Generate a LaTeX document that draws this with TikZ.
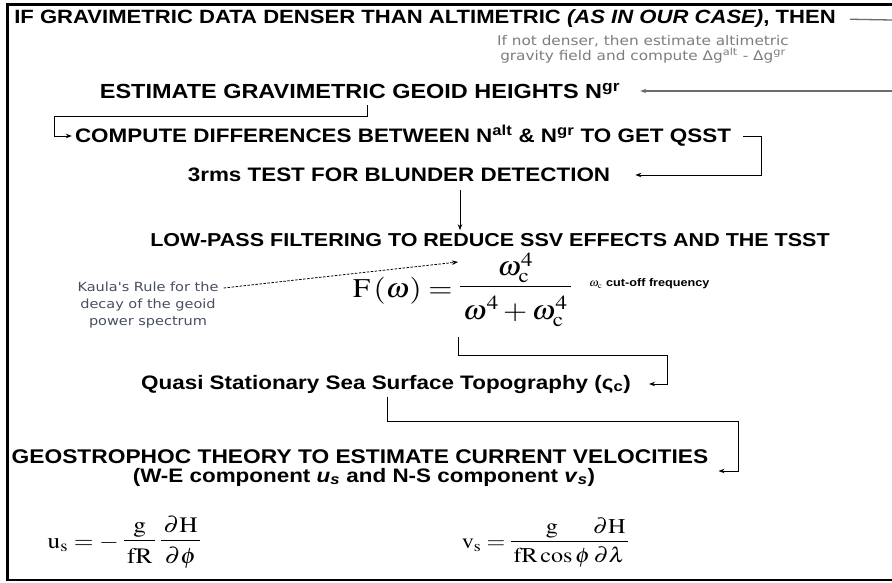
\documentclass[tikz,border=0pt]{standalone}
\usepackage{amsmath}
\usepackage{mathptmx}
\usepackage{fontspec}
\setmainfont{Liberation Serif}
\newfontfamily\arial{Liberation Sans}
\newfontfamily\notefont{DejaVu Sans}
\usetikzlibrary{arrows.meta,positioning,calc}
\definecolor{notegray}{RGB}{125,125,125}
\definecolor{kaulagray}{RGB}{70,78,95}
\newcommand{\eefrac}[2]{\begin{array}{@{\,}c@{\,}}#1\\\hline\rule{0pt}{1.05em}#2\end{array}}
\tikzset{
  stage/.style={inner sep=0pt, font=\arial\fontsize{19.5}{23}\selectfont\bfseries},
  note/.style={align=center, inner sep=0pt, font=\notefont\fontsize{13.3}{13.5}\selectfont},
  eqn/.style={inner sep=0pt},
  arr/.style={-{Stealth[length=6pt,width=4.5pt]}, line width=0.8pt},
  feed/.style={arr, draw=gray!85!black, line width=1.3pt},
  kaul/.style={-{Stealth[length=6pt,width=4.5pt]}, dash pattern=on 2.5pt off 1.5pt, line width=0.8pt}
}

\begin{document}
\begin{tikzpicture}[x=1pt, y=-1pt, every node/.append style={xscale=1.15, transform shape}]
\useasboundingbox (0,0) rectangle (892,583);
% frame
\draw[line width=3pt] (892,4.5) -- (7,4.5) -- (7,580);
\draw[line width=1.5pt] (5.5,580) -- (892,580);

% stages
\node[stage, font=\arial\fontsize{19.2}{23}\selectfont\bfseries] (title) at (425,19) {IF GRAVIMETRIC DATA DENSER THAN ALTIMETRIC \textit{(AS IN OUR CASE)}, THEN};
\node[note, text=notegray] (dense) at (643,49) {If not denser, then estimate altimetric\\gravity field and compute Δg\textsuperscript{alt} - Δg\textsuperscript{gr}};
\node[stage, font=\arial\fontsize{20.4}{23}\selectfont\bfseries] (est) at (360,91) {ESTIMATE GRAVIMETRIC GEOID HEIGHTS N\textsuperscript{gr}};
\node[stage] (comp) at (403,136) {COMPUTE DIFFERENCES BETWEEN N\textsuperscript{alt} \& N\textsuperscript{gr} TO GET QSST};
\node[stage] (rms) at (399,175) {3rms TEST FOR BLUNDER DETECTION};
\node[stage, font=\arial\fontsize{18.7}{23}\selectfont\bfseries] (lowpass) at (490,240) {LOW-PASS FILTERING TO REDUCE SSV EFFECTS AND THE TSST};
\node[eqn, font=\fontsize{27}{32}\selectfont] (filt) at (462,291)
  {$\mathrm{F}\left(\omega\right)=\eefrac{\omega_{\mathrm{c}}^{4}}{\rule{0pt}{1.25em}\omega^{4}+\omega_{\mathrm{c}}^{4}}$};
\node[eqn, anchor=west, font=\arial\fontsize{11}{13}\selectfont\bfseries] (cut) at (589,284)
  {$\omega_{\mathrm{c}}$ cut-off frequency};
\node[note, text=kaulagray, font=\notefont\fontsize{12.6}{17}\selectfont] (kaula) at (148,305)
  {Kaula's Rule for the\\decay of the geoid\\power spectrum};
\node[stage] (quasi) at (386,384) {Quasi Stationary Sea Surface Topography (ς\textsubscript{c})};
\node[stage, font=\arial\fontsize{19.8}{23}\selectfont\bfseries] (geo) at (360,457) {GEOSTROPHOC THEORY TO ESTIMATE CURRENT VELOCITIES};
\node[stage] (comps) at (364,477) {(W-E component \textit{u}\textsubscript{\textit{s}} and N-S component \textit{v}\textsubscript{\textit{s}})};
\node[eqn, font=\fontsize{22}{26}\selectfont] (us) at (124,543)
  {$\mathrm{u}_{\mathrm{s}}=-\;\eefrac{\mathrm{g}}{\mathrm{fR}}\;\eefrac{\partial\mathrm{H}}{\partial\phi}$};
\node[eqn, font=\fontsize{21}{25}\selectfont] (vs) at (545,543)
  {$\mathrm{v}_{\mathrm{s}}=\eefrac{\mathrm{g}}{\mathrm{fR}\cos\phi}\!\eefrac{\partial\mathrm{H}}{\partial\lambda}$};

% bends
\coordinate (tr) at (892,20);
\coordinate (er) at (892,91);
\coordinate (b1) at (54,116);
\coordinate (b2) at (761,136);
\coordinate (fnum) at (458,262);
\coordinate (b4) at (667,355);
\coordinate (b5) at (738,421);

% connectors
\draw[draw=gray!85!black, line width=1.3pt, shorten <=14pt] (title.east) -- (tr);
\draw[feed, shorten >=20pt] (er) -- (est.east);
\draw[arr, shorten <=6pt, shorten >=3pt] ([xshift=7pt]est.south) |- (b1) |- (comp.west);
\draw[arr, shorten >=25pt] ([xshift=12pt]comp.east) -- (b2) |- (rms.east);
\draw[arr, shorten <=8pt, shorten >=3pt] ([xshift=61pt]rms.south) -- ([xshift=61pt]rms.south |- lowpass.north);
\draw[kaul] ([xshift=5pt,yshift=17pt]kaula.east) -- (fnum);
\draw[arr, shorten <=8pt] ([xshift=-4pt]filt.south) |- (b4) |- ([xshift=18pt]quasi.east);
\draw[arr, shorten <=4pt] ([xshift=1pt]quasi.south) |- (b5) |- ([xshift=10pt,yshift=-14pt]geo.east);
\end{tikzpicture}
\end{document}
